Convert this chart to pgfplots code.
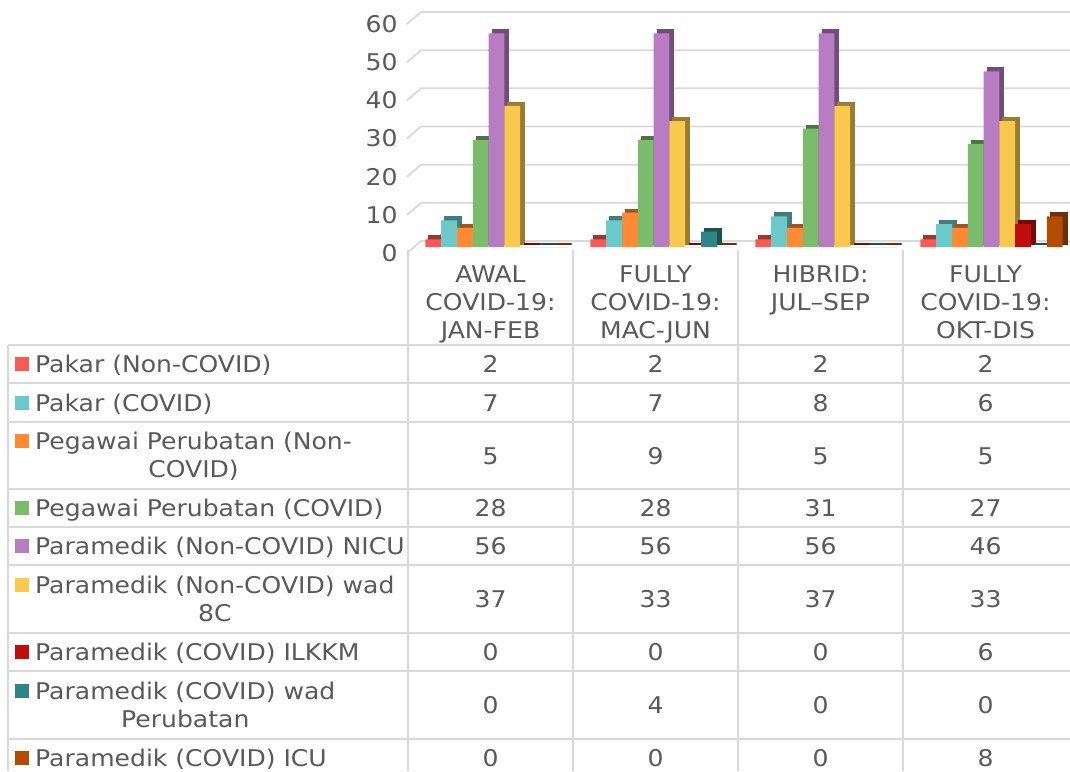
\documentclass[border=0pt]{standalone}
\usepackage{fontspec}
\setmainfont{DejaVu Sans}[FakeStretch=1.09]
\usepackage{pgfplots}
\usepackage{pgfplotstable}
\pgfplotsset{compat=1.18}

\definecolor{txt}{HTML}{595959}
\definecolor{gridc}{HTML}{D9D9D9}
\definecolor{c1}{HTML}{F95A55}
\definecolor{c2}{HTML}{6BC9C9}
\definecolor{c3}{HTML}{FF8A33}
\definecolor{c4}{HTML}{7BBB6C}
\definecolor{c5}{HTML}{B87CC2}
\definecolor{c6}{HTML}{F9C84E}
\definecolor{c7}{HTML}{C00E0E}
\definecolor{c8}{HTML}{2F8585}
\definecolor{c9}{HTML}{B24D00}

% rows = periods, columns = staff groups
\pgfplotstableread{
x s1 s2 s3 s4 s5 s6 s7 s8 s9
0 2 7 5 28 56 37 0 0 0
1 2 7 9 28 56 33 0 4 0
2 2 8 5 31 56 37 0 0 0
3 2 6 5 27 46 33 6 0 8
}\staff

\tikzset{
  gridl/.style={draw=gridc, line width=1.8pt},
  side/.style={ybar, bar width=15.8pt, yshift=9pt, line width=2pt, fill=#1!62!black, draw=#1!62!black},
  front/.style={ybar, bar width=15.8pt, yshift=6pt, draw=none, fill=#1},
}

\begin{document}
\begin{tikzpicture}[font=\fontsize{23}{28}\selectfont, text=txt]
\path[use as bounding box] (0pt,0pt) rectangle (1070pt,-771pt);

% back wall grid
\foreach \v in {0,...,6}{
  \pgfmathsetmacro\ya{-253+\v*229/6}
  \pgfmathsetmacro\yb{\ya+12}
  \draw[gridl] (407pt,\ya pt) -- (421pt,\yb pt) -- (1070pt,\yb pt);
}

\begin{axis}[
    at={(408pt,-253pt)}, anchor=south west,
    scale only axis, width=660pt, height=229pt,
    xmin=-0.5, xmax=3.5, ymin=0, ymax=60,
    ytick={0,10,...,60}, xtick=\empty,
    axis line style={draw=none},
    major tick length=0pt,
    yticklabel style={text=txt, xshift=-7pt},
    /pgf/number format/assume math mode=true,
    clip=false,
]
\addplot[side=c1, bar shift=-53.2pt] table[x=x,y=s1]{\staff};
\addplot[side=c2, bar shift=-37.4pt] table[x=x,y=s2]{\staff};
\addplot[side=c3, bar shift=-21.6pt] table[x=x,y=s3]{\staff};
\addplot[side=c4, bar shift=-5.8pt] table[x=x,y=s4]{\staff};
\addplot[side=c5, bar shift=10pt] table[x=x,y=s5]{\staff};
\addplot[side=c6, bar shift=25.8pt] table[x=x,y=s6]{\staff};
\addplot[side=c7, bar shift=41.6pt] table[x=x,y=s7]{\staff};
\addplot[side=c8, bar shift=57.4pt] table[x=x,y=s8]{\staff};
\addplot[side=c9, bar shift=73.2pt] table[x=x,y=s9]{\staff};

\addplot[front=c1, bar shift=-57.2pt] table[x=x,y=s1]{\staff};
\addplot[front=c2, bar shift=-41.4pt] table[x=x,y=s2]{\staff};
\addplot[front=c3, bar shift=-25.6pt] table[x=x,y=s3]{\staff};
\addplot[front=c4, bar shift=-9.8pt] table[x=x,y=s4]{\staff};
\addplot[front=c5, bar shift=6pt] table[x=x,y=s5]{\staff};
\addplot[front=c6, bar shift=21.8pt] table[x=x,y=s6]{\staff};
\addplot[front=c7, bar shift=37.6pt] table[x=x,y=s7]{\staff};
\addplot[front=c8, bar shift=53.4pt] table[x=x,y=s8]{\staff};
\addplot[front=c9, bar shift=69.2pt] table[x=x,y=s9]{\staff};
\end{axis}

% data table
\begin{scope}[x=1pt, y=-1pt, every node/.style={inner sep=0pt}]
  \foreach \yy in {345,383,422,489,527,565,633,671,739}
    \draw[gridl] (8,\yy) -- (1070,\yy);
  \draw[gridl] (8,345) -- (8,771);
  \foreach \xx in {408,573,738,903}
    \draw[gridl] (\xx,250) -- (\xx,771);

  % period labels
  \foreach \cx/\la/\lb/\lc in {490.5/AWAL/COVID-19:/JAN-FEB,
                               655.5/FULLY/COVID-19:/MAC-JUN,
                               985.5/FULLY/COVID-19:/OKT-DIS}{
    \node[anchor=base] at (\cx,282) {\la};
    \node[anchor=base] at (\cx,310) {\lb};
    \node[anchor=base] at (\cx,338) {\lc};
  }
  \node[anchor=base] at (820.5,282) {HIBRID:};
  \node[anchor=base] at (820.5,310) {JUL–SEP};

  % values
  \foreach \k/\yy in {1/372.5,2/411,3/464,4/516.5,5/554.5,6/607.5,7/660.5,8/713.5,9/766.5}{
    \foreach \c/\cx in {0/490.5,1/655.5,2/820.5,3/985.5}{
      \pgfplotstablegetelem{\c}{s\k}\of\staff
      \node[anchor=base] at (\cx,\yy) {\pgfplotsretval};
    }
  }

  % series keys
  \foreach \k/\cy in {1/364,2/402.5,3/441,4/508,5/546,6/585,7/652,8/691,9/758}
    \fill[c\k] (15,\cy-7) rectangle (29,\cy+7);

  \node[anchor=base west] at (35,372.5) {Pakar (Non-COVID)};
  \node[anchor=base west] at (35,411) {Pakar (COVID)};
  \node[anchor=base west] (l3) at (35,449.5) {Pegawai Perubatan (Non-};
  \node[anchor=base] at (l3.center |- 0,477.5) {COVID)};
  \node[anchor=base west] at (35,516.5) {Pegawai Perubatan (COVID)};
  \node[anchor=base west] at (35,554.5) {Paramedik (Non-COVID) NICU};
  \node[anchor=base west] (l6) at (35,593.5) {Paramedik (Non-COVID) wad};
  \node[anchor=base] at (l6.center |- 0,621.5) {8C};
  \node[anchor=base west] at (35,660.5) {Paramedik (COVID) ILKKM};
  \node[anchor=base west] (l8) at (35,699.5) {Paramedik (COVID) wad};
  \node[anchor=base] at (l8.center |- 0,727.5) {Perubatan};
  \node[anchor=base west] at (35,766.5) {Paramedik (COVID) ICU};
\end{scope}
\end{tikzpicture}
\end{document}
